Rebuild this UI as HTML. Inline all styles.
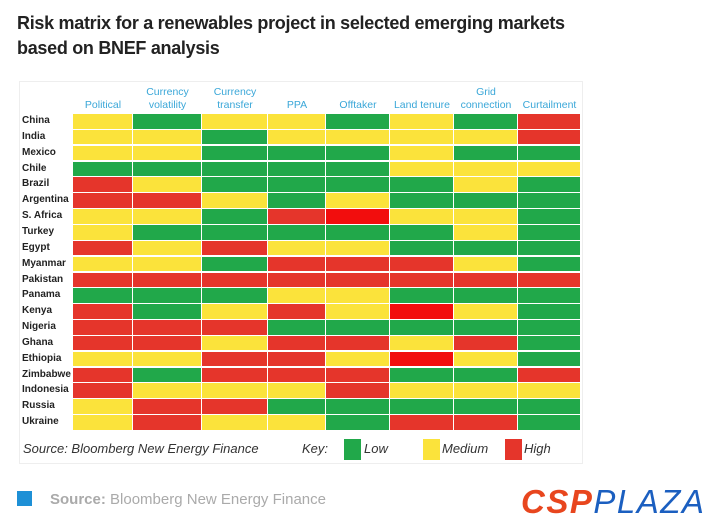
<!DOCTYPE html>
<html><head><meta charset="utf-8"><style>
body{margin:0;width:720px;height:532px;background:#fff;position:relative;overflow:hidden;font-family:"Liberation Sans",sans-serif}
.t{position:absolute;left:17px;top:11px;font-size:18px;font-weight:bold;color:#222;line-height:25px;letter-spacing:-0.3px}
.box{position:absolute;left:19px;top:81px;width:562px;height:381px;border:1px solid #eee;background:#fff}
.h{position:absolute;top:84px;font-size:10.5px;color:#3aa7d8;text-align:center;line-height:13px;height:28px;display:flex;align-items:flex-end;justify-content:center}
.r{position:absolute;left:22px;font-size:10px;font-weight:bold;color:#222}
.c{position:absolute;height:14.6px}
.G{background:#21a84a}.Y{background:#fbe33b}.R{background:#e5352b}.B{background:#f20d0d}
.k{position:absolute;top:449px;font-size:13px;font-style:italic;color:#333}
</style></head><body>
<div class="t">Risk matrix for a renewables project in selected emerging markets<br>based on BNEF analysis</div>
<div class="box"></div>
<div id="g"></div>
<div class="k" style="left:23px;top:441px">Source: Bloomberg New Energy Finance</div>
<div class="k" style="left:302px;top:441px">Key:</div>
<div style="position:absolute;left:344px;top:439px;width:17px;height:21px" class="G"></div>
<div class="k" style="left:364px;top:441px">Low</div>
<div style="position:absolute;left:423px;top:439px;width:17px;height:21px" class="Y"></div>
<div class="k" style="left:442px;top:441px">Medium</div>
<div style="position:absolute;left:505px;top:439px;width:17px;height:21px" class="R"></div>
<div class="k" style="left:524px;top:441px">High</div>
<div style="position:absolute;left:17px;top:491px;width:15px;height:15px;background:#1e90d6"></div>
<div style="position:absolute;left:50px;top:491px;font-size:15px;color:#aaa"><b>Source:</b> Bloomberg New Energy Finance</div>
<div style="position:absolute;left:521px;top:483px;font-size:33px;font-style:italic;line-height:38px;letter-spacing:1.5px"><span style="color:#e8461e;font-weight:bold">CSP</span><span style="color:#1b5fc0">PLAZA</span></div>
<script>
var xs=[73,133,202,268,326,390,454,518,581];
var hd=["Political","Currency<br>volatility","Currency<br>transfer","PPA","Offtaker","Land tenure","Grid<br>connection","Curtailment"];
var rows=[["China","YGYYGYGR"],["India","YYGYYYYR"],["Mexico","YYGGGYGG"],["Chile","GGGGGYYY"],["Brazil","RYGGGGYG"],["Argentina","RRYGYGGG"],["S. Africa","YYGRBYYG"],["Turkey","YGGGGGYG"],["Egypt","RYRYYGGG"],["Myanmar","YYGRRRYG"],["Pakistan","RRRRRRRR"],["Panama","GGGYYGGG"],["Kenya","RGYRYBYG"],["Nigeria","RRRGGGGG"],["Ghana","RRYRRYRG"],["Ethiopia","YYRRYBYG"],["Zimbabwe","RGRRRGGR"],["Indonesia","RYYYRYYY"],["Russia","YRRGGGGG"],["Ukraine","YRYYGRRG"]];
var h="";
for(var i=0;i<8;i++)h+='<div class="h" style="left:'+xs[i]+'px;width:'+(xs[i+1]-xs[i])+'px">'+hd[i]+'</div>';
var y0=114,rh=15.85;
rows.forEach(function(r,j){var y=y0+j*rh;
h+='<div class="r" style="top:'+(y+1)+'px">'+r[0]+'</div>';
for(var i=0;i<8;i++)h+='<div class="c '+r[1][i]+'" style="left:'+xs[i]+'px;top:'+y+'px;width:'+(xs[i+1]-xs[i]-1)+'px"></div>';});
document.getElementById("g").innerHTML=h;
</script>
</body></html>
